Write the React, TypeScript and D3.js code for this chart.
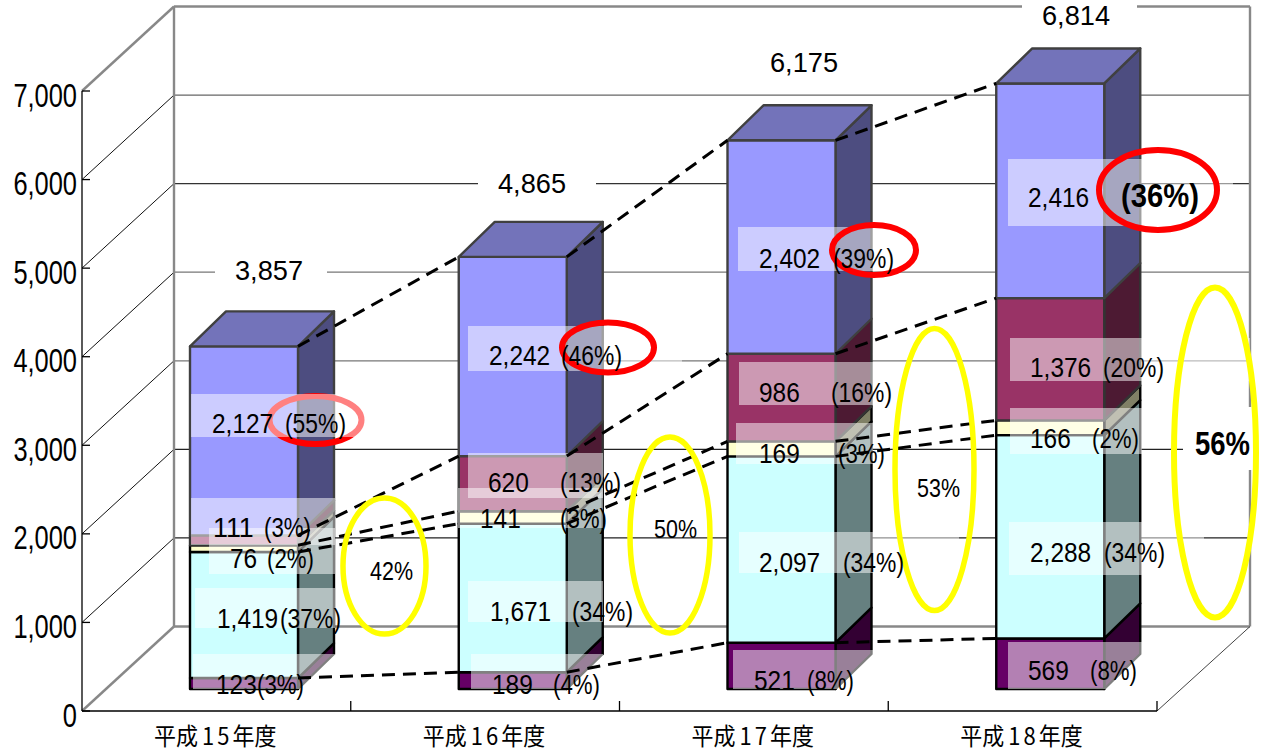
import React from "react";
import * as d3 from "d3";

// Fiscal years and yearly totals
const years = ["平成15年度", "平成16年度", "平成17年度", "平成18年度"];
const totals = [3857, 4865, 6175, 6814];

// Stack values per fiscal year, listed from the bottom of each column upward
const seriesPurple = [123, 189, 521, 569];
const seriesCyan = [1419, 1671, 2097, 2288];
const seriesIvory = [76, 141, 169, 166];
const seriesPlum = [111, 620, 986, 1376];
const seriesBlue = [2127, 2242, 2402, 2416];

// Stated shares of each year's total
const sharePurple = [3, 4, 8, 8];
const shareCyan = [37, 34, 34, 34];
const shareIvory = [2, 3, 3, 2];
const sharePlum = [3, 13, 16, 20];
const shareBlue = [55, 46, 39, 36];

// Combined share of the lower segments, one per year
const combinedShares = [42, 50, 53, 56];

const yTicks = [0, 1000, 2000, 3000, 4000, 5000, 6000, 7000];

const stack = [
  { values: seriesPurple, shares: sharePurple, front: "#660066", side: "#330033", edge: "#000000" },
  { values: seriesCyan, shares: shareCyan, front: "#CCFFFF", side: "#668080", edge: "#000000" },
  { values: seriesIvory, shares: shareIvory, front: "#FFFFCC", side: "#808066", edge: "#000000" },
  { values: seriesPlum, shares: sharePlum, front: "#993366", side: "#4D1A33", edge: "#333333" },
  { values: seriesBlue, shares: shareBlue, front: "#9999FF", side: "#4D4D80", edge: "#404040" },
];

// Chart frame
const W = 1264;
const H = 751;
const depthX = 92;
const depthY = 84.5;
const barDepthX = 36;
const barDepthY = 35;
const barWidth = 108;
const barInset = 108;

const x = d3.scaleBand<string>().domain(years).range([82, 1157]).paddingInner(0).paddingOuter(0);
const y = d3.scaleLinear().domain([0, 7000]).range([711, 91]);
// Columns stand further forward on the floor than the axis plane
const barY = d3.scaleLinear().domain([0, 7000]).range([689, 689 - 622]);
const fmt = d3.format(",");

const barLeft = (i: number) => (x(years[i]) as number) + barInset;

// Placement of value captions: [band left, band right, band top, band bottom, number x, baseline, share x]
const captionBoxes: number[][][] = [
  [
    [193, 335, 654, 689, 216, 694, 257],
    [195, 335, 588, 628, 217, 628, 280],
    [209, 335, 528, 574, 230, 568, 267],
    [191, 335, 498, 545, 213, 537, 264],
    [191, 400, 394, 437, 212, 433, 285],
  ],
  [
    [471, 603, 654, 689, 492, 694, 553],
    [468, 603, 581, 622, 490, 621, 572],
    [458, 603, 488, 528, 480, 528, 560],
    [468, 603, 453, 498, 488, 492, 560],
    [468, 682, 326, 371, 489, 365, 561],
  ],
  [
    [733, 873, 650, 689, 754, 690, 807],
    [739, 959, 532, 573, 759, 572, 843],
    [736, 873, 423, 464, 759, 463, 838],
    [739, 873, 362, 405, 759, 402, 831],
    [738, 880, 227, 271, 759, 268, 833],
  ],
  [
    [1008, 1142, 642, 689, 1028, 680, 1090],
    [1009, 1204, 522, 575, 1030, 562, 1104],
    [1010, 1142, 408, 454, 1030, 448, 1092],
    [1010, 1250, 338, 381, 1030, 377, 1103],
    [1008, 1233, 159, 226, 1028, 207, 1121],
  ],
];

// Rings around shares: [cx, cy, rx, ry]
const yellowRings = [
  [384.5, 566, 41.5, 68],
  [670, 535, 40, 98],
  [934.5, 469.5, 39.5, 141],
  [1215, 452.5, 41, 165],
];
const redRings = [
  [315.5, 420, 46, 24],
  [608, 347.5, 46, 25],
  [874, 250, 42, 25],
  [1158, 190, 59, 40],
];
// Placement of the combined shares: [left, baseline, width]
const combinedPos = [
  [370, 580, 43],
  [654, 538, 43],
  [917, 497, 43],
  [1195, 455, 55],
];
// Placement of the totals: [left, baseline, mask left, mask right, mask top, mask bottom]
const totalPos = [
  [235, 280, 215, 327, 258, 288],
  [498, 193, 478, 596, 170, 198],
  [770, 72, 750, 860, 50, 78],
  [1042, 25, 1022, 1137, 0, 30],
];

// Shade of each back-wall gridline
const gridShade: Record<number, string> = {
  1000: "#222222",
  2000: "#222222",
  3000: "#777777",
  4000: "#777777",
  5000: "#333333",
  6000: "#666666",
};

const labelFont = "'Liberation Sans', Arial, sans-serif";
const cjkFont = "'Noto Sans CJK JP', sans-serif";

// Width of a formatted number in the condensed caption style
const numberWidth = (s: string) =>
  d3.sum(Array.from(s), (c) => (c === "," ? 6.8 : 13.6));

function Column({ i }: { i: number }) {
  const left = barLeft(i);
  const right = left + barWidth;
  let running = 0;
  const faces = stack.map((s) => {
    const from = running;
    running += s.values[i];
    return { s, y0: barY(from), y1: barY(running) };
  });
  const topY = faces[faces.length - 1].y1;
  const topEdge = stack[stack.length - 1].edge;
  return (
    <g strokeLinejoin="round">
      {faces.map(({ s, y0, y1 }, k) => (
        <g key={k} stroke={s.edge} strokeWidth={2.4}>
          <polygon
            fill={s.side}
            points={[
              [right, y0],
              [right + barDepthX, y0 - barDepthY],
              [right + barDepthX, y1 - barDepthY],
              [right, y1],
            ].join(" ")}
          />
          <rect x={left} y={y1} width={barWidth} height={y0 - y1} fill={s.front} />
        </g>
      ))}
      <polygon
        fill="#7373BA"
        stroke={topEdge}
        strokeWidth={2.4}
        points={[
          [left, topY],
          [left + barDepthX, topY - barDepthY],
          [right + barDepthX, topY - barDepthY],
          [right, topY],
        ].join(" ")}
      />
    </g>
  );
}

function Band({ b }: { b: number[] }) {
  return <rect x={b[0]} y={b[2]} width={b[1] - b[0]} height={b[3] - b[2]} fill="#FFFFFF" fillOpacity={0.5} />;
}

function Ring({ r, color, width }: { r: number[]; color: string; width: number }) {
  return <ellipse cx={r[0]} cy={r[1]} rx={r[2]} ry={r[3]} fill="none" stroke={color} strokeWidth={width} />;
}

export default function App() {
  // Running tops of each stack layer, used by the connecting dashes
  const connectors = stack.map((_, k) =>
    years.slice(0, -1).map((_, i) => {
      const top = (j: number) => d3.sum(stack.slice(0, k + 1), (s) => s.values[j]);
      return {
        x1: barLeft(i) + barWidth,
        y1: barY(top(i)),
        x2: barLeft(i + 1),
        y2: barY(top(i + 1)),
      };
    })
  );

  return (
    <svg
      width={W}
      height={H}
      viewBox={`0 0 ${W} ${H}`}
      style={{ position: "absolute", left: 0, top: 0, display: "block", background: "#fff" }}
    >
      {/* Walls and floor */}
      <g fill="none">
        {yTicks.slice(1, -1).map((t) => (
          <g key={t}>
            <line x1={174} x2={1250} y1={y(t) - depthY} y2={y(t) - depthY} stroke={gridShade[t]} strokeWidth={1.3} />
            <line x1={82} x2={174} y1={y(t)} y2={y(t) - depthY} stroke="#111111" strokeWidth={1} />
          </g>
        ))}
        <g stroke="#888888" strokeWidth={2.4}>
          <line x1={174} x2={174} y1={y(7000) - depthY} y2={y(0) - depthY} />
          <line x1={1250} x2={1250} y1={y(7000) - depthY} y2={y(0) - depthY} />
          <line x1={174} x2={1250} y1={y(7000) - depthY} y2={y(7000) - depthY} />
          <line x1={174} x2={1250} y1={y(0) - depthY} y2={y(0) - depthY} />
          <line x1={82} x2={174} y1={y(7000)} y2={y(7000) - depthY} />
          <line x1={82} x2={174} y1={y(0)} y2={y(0) - depthY} />
        </g>
        <line x1={1157} x2={1250} y1={y(0)} y2={y(0) - depthY} stroke="#444444" strokeWidth={1} />
      </g>

      {/* White patches behind the totals and the last combined share */}
      {totalPos.map((p, i) => (
        <rect key={i} x={p[2]} y={p[4]} width={p[3] - p[2]} height={p[5] - p[4]} fill="#FFFFFF" />
      ))}
      <rect x={1183} y={407} width={70} height={63} fill="#FFFFFF" />

      {/* Front axes */}
      <g stroke="#000000" strokeWidth={1.3} fill="none">
        <line x1={82} x2={82} y1={y(7000)} y2={y(0)} />
        <line x1={82} x2={1157} y1={y(0)} y2={y(0)} />
        {yTicks.map((t) => (
          <line key={t} x1={82} x2={90} y1={y(t)} y2={y(t)} />
        ))}
        {years.map((yr, i) => {
          const tx = (x(yr) as number) + (x.bandwidth() as number);
          return <line key={i} x1={tx} x2={tx} y1={y(0) - 10} y2={y(0)} />;
        })}
      </g>

      {years.map((_, i) => (
        <Column key={i} i={i} />
      ))}

      {/* Translucent bands behind the value captions */}
      {captionBoxes.map((boxes, i) =>
        boxes.map((b, k) => (i === 0 && k === 4 ? null : <Band key={`${i}-${k}`} b={b} />))
      )}

      {/* Dashes linking each layer between neighbouring columns */}
      <g stroke="#000000" strokeWidth={3} strokeDasharray="13 8" fill="none">
        {connectors.map((row, k) =>
          row.map((c, i) => <line key={`${k}-${i}`} x1={c.x1} y1={c.y1} x2={c.x2} y2={c.y2} />)
        )}
      </g>

      {yellowRings.map((r, i) => (
        <Ring key={i} r={r} color="#FFFF00" width={i === 3 ? 6 : 5.5} />
      ))}
      {redRings.map((r, i) => (
        <Ring key={i} r={r} color="#FF0000" width={6} />
      ))}
      <Band b={captionBoxes[0][4]} />

      {/* Value axis labels */}
      <g fontFamily={labelFont} fontSize={33} fill="#000000" textAnchor="end">
        {yTicks.map((t) => (
          <text key={t} transform={`translate(77,${y(t) + 15.5}) scale(0.77,1)`}>
            {fmt(t)}
          </text>
        ))}
      </g>

      {/* Category labels, with the two digits spaced apart */}
      <g fontFamily={cjkFont} fontSize={22} fill="#000000">
        {years.map((yr, i) => (
          <text
            key={i}
            transform={`translate(${(x(yr) as number) + 72},745) scale(1,1.08)`}
            dx="0 0 4 3 3 0"
          >
            {yr}
          </text>
        ))}
      </g>

      {/* Value captions */}
      <g fontFamily={labelFont} fontSize={27} fill="#000000">
        {captionBoxes.map((boxes, i) =>
          boxes.map((b, k) => {
            const emphasised = i === 3 && k === 4;
            const share = `(${stack[k].shares[i]}%)`;
            const wide = stack[k].shares[i] >= 10;
            const label = fmt(stack[k].values[i]);
            return (
              <g key={`${i}-${k}`}>
                <text x={b[4]} y={b[5]} textLength={numberWidth(label)} lengthAdjust="spacingAndGlyphs">
                  {label}
                </text>
                <text
                  x={b[6]}
                  y={b[5]}
                  textLength={emphasised ? 78 : wide ? 61 : 47}
                  lengthAdjust="spacingAndGlyphs"
                  fontSize={emphasised ? 33 : 27}
                  fontWeight={emphasised ? 700 : 400}
                >
                  {share}
                </text>
              </g>
            );
          })
        )}
      </g>

      {/* Column totals */}
      <g fontFamily={labelFont} fontSize={28} fill="#000000">
        {totals.map((t, i) => (
          <text
            key={i}
            x={totalPos[i][0]}
            y={totalPos[i][1]}
            textLength={68}
            lengthAdjust="spacingAndGlyphs"
          >
            {fmt(t)}
          </text>
        ))}
      </g>

      {/* Combined shares inside the yellow rings */}
      <g fontFamily={labelFont} fill="#000000">
        {combinedShares.map((v, i) => (
          <text
            key={i}
            x={combinedPos[i][0]}
            y={combinedPos[i][1]}
            textLength={combinedPos[i][2]}
            lengthAdjust="spacingAndGlyphs"
            fontSize={i === 3 ? 34 : 26}
            fontWeight={i === 3 ? 700 : 400}
          >
            {v}%
          </text>
        ))}
      </g>
    </svg>
  );
}
